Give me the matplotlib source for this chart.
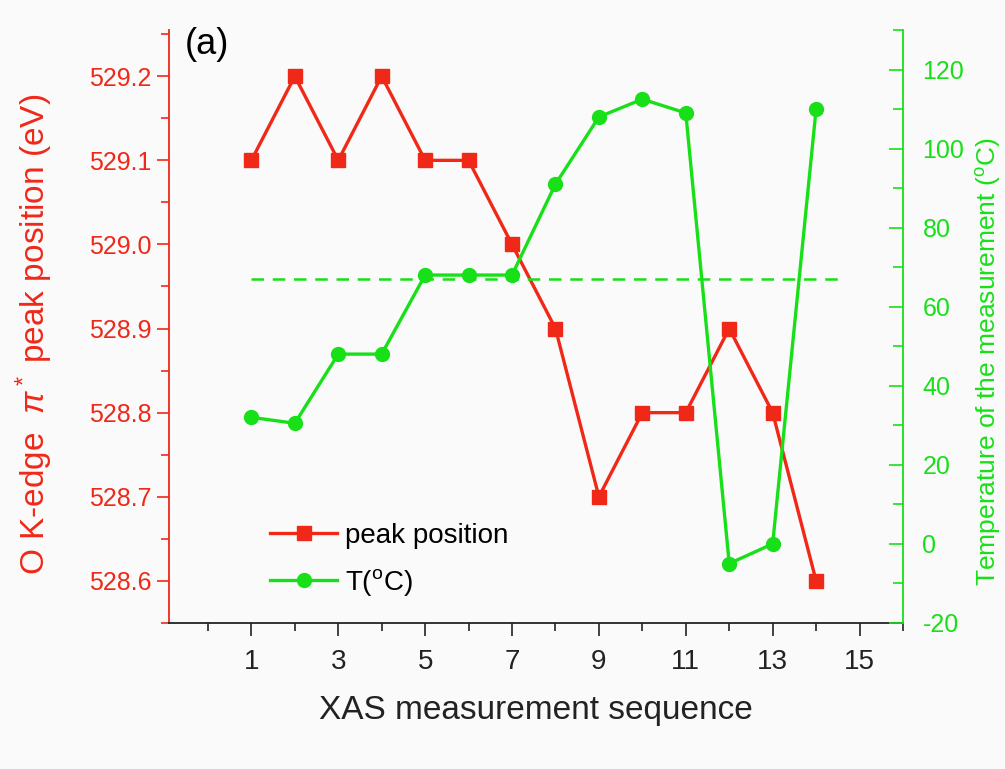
import matplotlib.pyplot as plt
from matplotlib.ticker import MultipleLocator

plt.rcParams['font.family'] = ['Liberation Sans', 'DejaVu Sans']
plt.rcParams['mathtext.fontset'] = 'custom'
plt.rcParams['mathtext.rm'] = 'Liberation Sans'
plt.rcParams['mathtext.it'] = 'Liberation Sans:italic'
plt.rcParams['axes.unicode_minus'] = False

seq = [1, 2, 3, 4, 5, 6, 7, 8, 9, 10, 11, 12, 13, 14]
peak = [529.1, 529.2, 529.1, 529.2, 529.1, 529.1, 529.0, 528.9, 528.7, 528.8, 528.8, 528.9, 528.8, 528.6]
temp = [32, 30.5, 48, 48, 68, 68, 68, 91, 108, 112.5, 109, -5, 0, 110]
t_ref = 67
t_ref_x = [1, 14.65]

red = '#f02818'
green = '#18e018'

fig = plt.figure(figsize=(10.05, 7.69), dpi=100, facecolor='#fafafa')
ax = fig.add_axes([0.168, 0.19, 0.7305, 0.771])
ax.set_facecolor('#fafafa')
ax2 = ax.twinx()

l1, = ax.plot(seq, peak, color=red, lw=2.4, marker='s', ms=10, mec=red, zorder=3)
l2, = ax2.plot(seq, temp, color=green, lw=2.4, marker='o', ms=10, mec=green)
ax2.plot(t_ref_x, [t_ref, t_ref], color=green, lw=1.8, ls=(0, (5, 3.5)))

ax.set_xlim(-0.9, 16)
ax.set_ylim(528.55, 529.255)
ax2.set_ylim(-20, 130)

ax.xaxis.set_major_locator(MultipleLocator(2, offset=1))
ax.xaxis.set_minor_locator(MultipleLocator(1))
ax.yaxis.set_major_locator(MultipleLocator(0.1))
ax.yaxis.set_minor_locator(MultipleLocator(0.05))
ax2.yaxis.set_major_locator(MultipleLocator(20))
ax2.yaxis.set_minor_locator(MultipleLocator(10))
ax.yaxis.set_major_formatter(plt.FormatStrFormatter('%.1f'))

for a in (ax, ax2):
    a.spines['top'].set_visible(False)
    for s in a.spines.values():
        s.set_linewidth(1.3)
ax.spines['left'].set_color(red)
ax.spines['right'].set_visible(False)
ax2.spines['left'].set_visible(False)
ax2.spines['right'].set_color(green)
ax2.spines['bottom'].set_visible(False)
ax.spines['bottom'].set_color('#222222')

ax.tick_params(axis='x', which='both', direction='out', colors='#222222', labelsize=20, pad=10, width=1.2)
ax.tick_params(axis='x', which='major', length=9)
ax.tick_params(axis='x', which='minor', length=6)
ax.tick_params(axis='y', which='both', direction='out', colors=red, labelsize=18, width=1.2)
ax.tick_params(axis='y', which='major', length=9)
ax.tick_params(axis='y', which='minor', length=6)
ax2.tick_params(axis='y', which='both', direction='in', colors=green, labelsize=18, pad=14, width=1.2)
ax2.tick_params(axis='y', which='major', length=10)
ax2.tick_params(axis='y', which='minor', length=7)

ax.set_xlabel('XAS measurement sequence', fontsize=24, color='#222222', labelpad=14)
ax.set_ylabel('O K-edge  $\\pi^*$ peak position (eV)', fontsize=24, color=red)
ax.yaxis.set_label_coords(-0.155, 0.486)
ax2.set_ylabel('Temperature of the measurement ($^{\\rm o}$C)', fontsize=19, color=green)
ax2.yaxis.set_label_coords(1.097, 0.44)

ax.text(0.022, 1.005, '(a)', transform=ax.transAxes, fontsize=26, va='top', ha='left')

ax.legend([l1, l2], ['peak position', 'T($^{\\rm o}$C)'], loc='lower left',
          bbox_to_anchor=(0.104, 0.0), frameon=False, fontsize=20,
          handlelength=2.4, labelspacing=0.65, handletextpad=0.3)

fig.savefig('out.png', dpi=100, facecolor=fig.get_facecolor())
